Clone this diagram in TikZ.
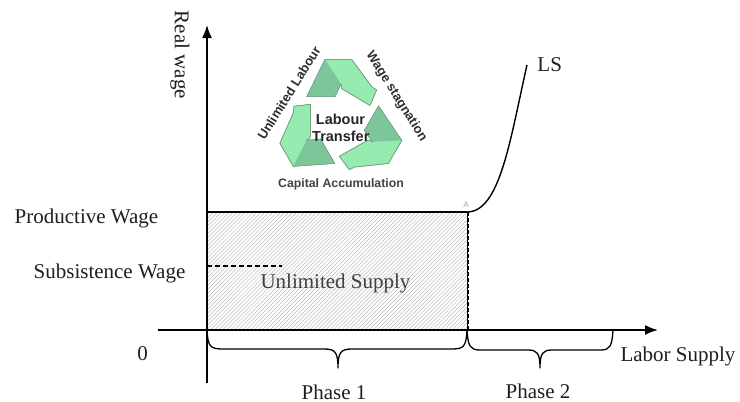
\documentclass[tikz,border=0pt]{standalone}
\usepackage{fontspec}
\setmainfont{Liberation Serif}
\newfontfamily\logofont{Liberation Sans}
\usetikzlibrary{arrows.meta,patterns.meta}
\definecolor{lg}{HTML}{96ECB0}
\definecolor{dg}{HTML}{7CC699}
\definecolor{og}{HTML}{6E9C7E}
\definecolor{txt}{HTML}{1E1E1E}
\definecolor{logotxt}{HTML}{2E2E2E}
\begin{document}
\begin{tikzpicture}[x=1pt,y=-1pt,
  lbl/.style={font=\fontsize{21}{24}\selectfont, text=txt, inner sep=0pt},
  logolbl/.style={font=\logofont\bfseries\fontsize{13}{13}\selectfont, text=logotxt, inner sep=0pt},
  axisline/.style={line width=1.7pt, -{Latex[length=13pt,width=10pt]}},
  bracepath/.style={line width=1.3pt, line join=round, line cap=round},
  arrowface/.style={fill=lg, draw=og, line width=0.5pt, line join=round},
  darkface/.style={fill=dg}]
\useasboundingbox (0,0) rectangle (740,402);
% key points
\coordinate (O) at (207,330);
\coordinate (ytop) at (207,25);
\coordinate (ybot) at (207,383);
\coordinate (xl) at (158,330);
\coordinate (xr) at (658,330);
\coordinate (PW) at (207,212);
\coordinate (A) at (467,212);
\coordinate (Abot) at (467,330);
\coordinate (SW) at (207,266);
\coordinate (SWe) at (282,266);
\coordinate (LSend) at (527,65);
\coordinate (X2) at (613,330);
% hatched area
\fill[pattern={Lines[angle=45,distance=2.8pt,line width=0.5pt]},pattern color=gray!55] (PW) rectangle (Abot);
% lines
\draw[line width=1.4pt] (PW) -- (A);
\draw[line width=1.2pt, dash pattern=on 5pt off 3pt] (SW) -- (SWe);
\draw[line width=0.8pt] (A) -- (Abot);
\draw[line width=1.8pt, dash pattern=on 4pt off 2pt] ([xshift=0.6pt]A) -- ([xshift=0.6pt]Abot);
\draw[line width=1.4pt] (A) .. controls +(33,0) and +(-17,75) .. (LSend);
% axes
\draw[axisline] (ybot) -- (ytop);
\draw[axisline] (xl) -- (xr);
% braces
\draw[bracepath] (O) .. controls (208,347) and (210,349) .. (224,349) -- (324,349)
  .. controls (335,349) and (338,352) .. (338,368)
  .. controls (338,352) and (341,349) .. (352,349) -- (451,349)
  .. controls (464,349) and (466,347) .. (Abot);
\draw[bracepath] (Abot) .. controls (468,346) and (470,350) .. (480,350) -- (528,350)
  .. controls (537,350) and (540,353) .. (540,368)
  .. controls (540,353) and (543,350) .. (552,350) -- (601,350)
  .. controls (610,350) and (612,346) .. (X2);
% labels
\node[lbl, anchor=base] (pw) at (86.5,223) {Productive Wage};
\node[lbl, anchor=base] (sw) at (109.5,278) {Subsistence Wage};
\node[lbl, anchor=base] (zero) at (142.5,360) {0};
\node[lbl, anchor=base, text=txt!85] (us) at (335.5,288.5) {Unlimited Supply};
\node[lbl, anchor=base] (p1) at (334,399) {Phase 1};
\node[lbl, anchor=base] (p2) at (538,398.5) {Phase 2};
\node[lbl, anchor=base] (lab) at (678,361.5) {Labor Supply};
\node[lbl, anchor=base] (ls) at (549.7,71.5) {LS};
\node[lbl, rotate=-90] (rw) at (180,55) {Real wage};
\node[font=\logofont\fontsize{8}{8}\selectfont, text=gray!70, inner sep=0pt] (amark) at (466,205) {A};
% recycling logo
\begin{scope}[shift={(340,122)}]
\foreach \a in {0,120,240}{
  \begin{scope}[rotate=\a]
    \path[arrowface] (-33.3,-25.3) -- (-15,-62.7) -- (11.7,-62.7) -- (31.7,-35.3) -- (36.7,-32)
      -- (30,-16.5) -- (1.5,-33.5) -- (1,-38) -- (-5,-25.3) -- cycle;
    \path[darkface] (-33.3,-25.3) -- (-15,-62.7) -- (1,-38) -- (-5,-25.3) -- cycle;
    \draw[og, line width=0.5pt, line join=round] (-33.3,-25.3) -- (-15,-62.7) -- (11.7,-62.7) -- (31.7,-35.3) -- (36.7,-32)
      -- (30,-16.5) -- (1.5,-33.5) -- (1,-38) -- (-5,-25.3) -- cycle;
  \end{scope}
}
\end{scope}
\node[logolbl, font=\logofont\bfseries\fontsize{14.5}{14.5}\selectfont, text=black!85, anchor=base] (lt1) at (340.5,124) {Labour};
\node[logolbl, font=\logofont\bfseries\fontsize{14.5}{14.5}\selectfont, text=black!85, anchor=base] (lt2) at (340.8,141.5) {Transfer};
\node[logolbl, font=\logofont\bfseries\fontsize{12.3}{12.3}\selectfont, text=logotxt!90, anchor=base] (ca) at (341,187) {Capital Accumulation};
\node[logolbl, rotate=58] (ul) at (289,93) {Unlimited Labour};
\node[logolbl, rotate=-58] (ws) at (396.5,96.5) {Wage stagnation};
\end{tikzpicture}
\end{document}
